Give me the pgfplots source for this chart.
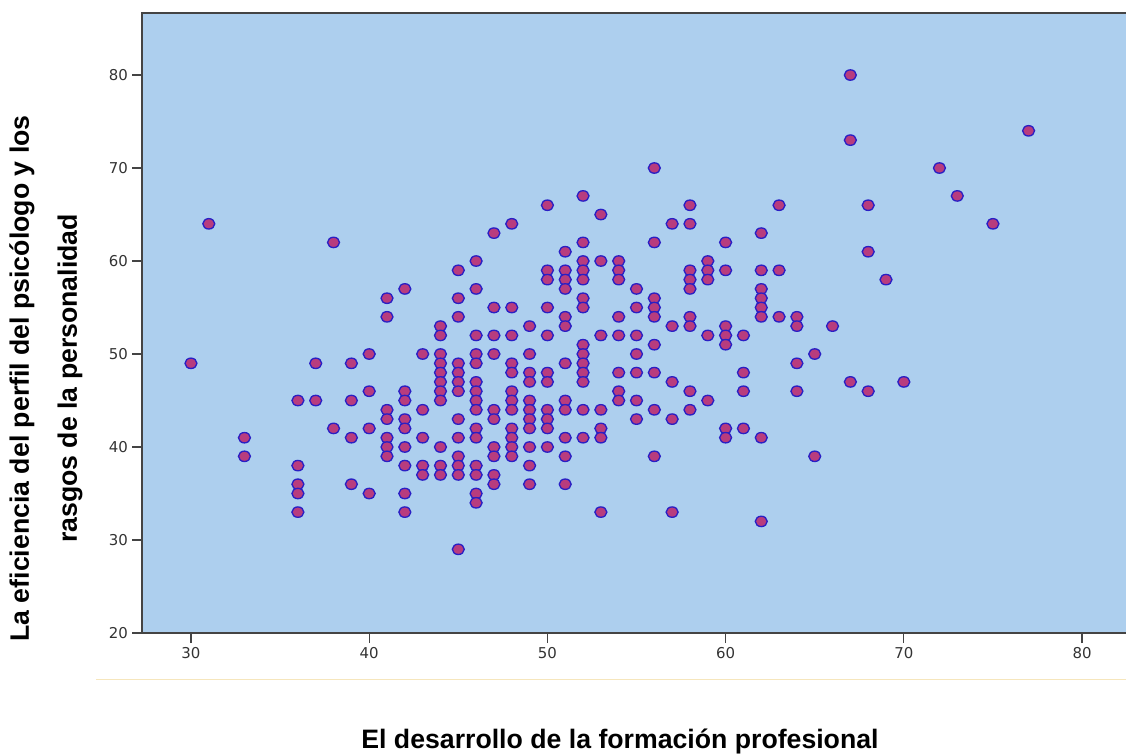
\documentclass[border=0pt]{standalone}
\usepackage{fontspec}
\setmainfont{Liberation Sans}
\newfontfamily\tickfont{DejaVu Sans}
\usepackage{pgfplots}
\pgfplotsset{compat=1.18}
\definecolor{plotbg}{HTML}{ADCFEE}
\definecolor{ptfill}{HTML}{B83C7E}
\definecolor{ptedge}{HTML}{2A1FC4}
\definecolor{axisgray}{HTML}{444444}
\definecolor{rulecol}{HTML}{F6E6BC}
\begin{document}
\begin{tikzpicture}
\useasboundingbox (0pt,0pt) rectangle (844.5pt,565.5pt);
\draw[rulecol,line width=0.75pt] (72pt,56.25pt) -- (844.5pt,56.25pt);
\begin{axis}[
at={(106.875pt,90.75pt)},
anchor=south west,
scale only axis,
width=739.125pt,
height=465pt,
xmin=27.28,xmax=82.58,
ymin=20,ymax=86.67,
xtick={30,40,50,60,70,80},
ytick={20,30,40,50,60,70,80},
tick pos=left,
tick align=outside,
major tick length=7.5pt,
tick style={axisgray,line width=0.9pt},
axis line style={axisgray,line width=1.5pt},
axis background/.style={fill=plotbg},
/pgf/number format/assume math mode=true,
tick label style={font=\tickfont\fontsize{11.2}{13}\selectfont,text=black!80},
xlabel={El desarrollo de la formación profesional},
ylabel={La eficiencia del perfil del psicólogo y los\\rasgos de la personalidad},
x label style={font=\bfseries\fontsize{20}{24}\selectfont,at={(axis description cs:0.4845,-0.186)},anchor=base},
y label style={font=\bfseries\fontsize{20}{36}\selectfont,align=center,at={(axis description cs:-0.098,0.4105)},anchor=center},
]
\addplot[only marks,mark=*,mark size=3.9pt,
  mark options={xscale=1.15,fill=ptfill,draw=ptedge,line width=1pt}]
coordinates {
(67,80)
(77,74)
(67,73)
(56,70)(72,70)
(52,67)(73,67)
(50,66)(58,66)(63,66)(68,66)
(53,65)
(31,64)(48,64)(57,64)(58,64)(75,64)
(47,63)(62,63)
(38,62)(52,62)(56,62)(60,62)
(51,61)(68,61)
(46,60)(52,60)(53,60)(54,60)(59,60)
(45,59)(50,59)(51,59)(52,59)(54,59)(58,59)(59,59)(60,59)(62,59)(63,59)
(50,58)(51,58)(52,58)(54,58)(58,58)(59,58)(69,58)
(42,57)(46,57)(51,57)(55,57)(58,57)(62,57)
(41,56)(45,56)(52,56)(56,56)(62,56)
(47,55)(48,55)(50,55)(52,55)(55,55)(56,55)(62,55)
(41,54)(45,54)(51,54)(54,54)(56,54)(58,54)(62,54)(63,54)(64,54)
(44,53)(49,53)(51,53)(57,53)(58,53)(60,53)(64,53)(66,53)
(44,52)(46,52)(47,52)(48,52)(50,52)(53,52)(54,52)(55,52)(59,52)(60,52)(61,52)
(52,51)(56,51)(60,51)
(40,50)(43,50)(44,50)(46,50)(47,50)(49,50)(52,50)(55,50)(65,50)
(30,49)(37,49)(39,49)(44,49)(45,49)(46,49)(48,49)(51,49)(52,49)(64,49)
(44,48)(45,48)(48,48)(49,48)(50,48)(52,48)(54,48)(55,48)(56,48)(61,48)
(44,47)(45,47)(46,47)(49,47)(50,47)(52,47)(57,47)(67,47)(70,47)
(40,46)(42,46)(44,46)(45,46)(46,46)(48,46)(54,46)(58,46)(61,46)(64,46)(68,46)
(36,45)(37,45)(39,45)(42,45)(44,45)(46,45)(48,45)(49,45)(51,45)(54,45)(55,45)(59,45)
(41,44)(43,44)(46,44)(47,44)(48,44)(49,44)(50,44)(51,44)(52,44)(53,44)(56,44)(58,44)
(41,43)(42,43)(45,43)(47,43)(49,43)(50,43)(55,43)(57,43)
(38,42)(40,42)(42,42)(46,42)(48,42)(49,42)(50,42)(53,42)(60,42)(61,42)
(33,41)(39,41)(41,41)(43,41)(45,41)(46,41)(48,41)(51,41)(52,41)(53,41)(60,41)(62,41)
(41,40)(42,40)(44,40)(47,40)(48,40)(49,40)(50,40)
(33,39)(41,39)(45,39)(47,39)(48,39)(51,39)(56,39)(65,39)
(36,38)(42,38)(43,38)(44,38)(45,38)(46,38)(49,38)
(43,37)(44,37)(45,37)(46,37)(47,37)
(36,36)(39,36)(47,36)(49,36)(51,36)
(36,35)(40,35)(42,35)(46,35)
(46,34)
(36,33)(42,33)(53,33)(57,33)
(62,32)
(45,29)
};
\end{axis}
\end{tikzpicture}
\end{document}
